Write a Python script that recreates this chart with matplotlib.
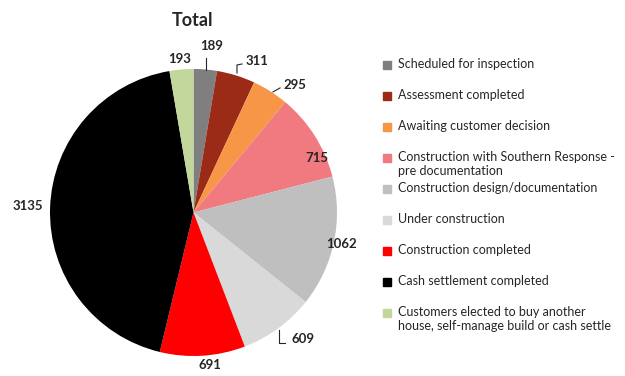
import numpy as np
import matplotlib.pyplot as plt
from matplotlib.patches import Rectangle

plt.rcParams['font.family'] = ['Lato', 'DejaVu Sans']

categories = ["Scheduled for inspection",
              "Assessment completed",
              "Awaiting customer decision",
              "Construction with Southern Response -\npre documentation",
              "Construction design/documentation",
              "Under construction",
              "Construction completed",
              "Cash settlement completed",
              "Customers elected to buy another\nhouse, self-manage build or cash settle"]
values = [189, 311, 295, 715, 1062, 609, 691, 3135, 193]
colors = ["#7f7f7f", "#9b2a17", "#f79646", "#f07a80", "#bfbfbf",
          "#d9d9d9", "#ff0000", "#000000", "#c3d69b"]

# label anchor (data coords) and optional leader lines
label_pos = [(0.129, 1.16), (0.44, 1.056), (0.71, 0.889), (0.861, 0.38),
             (1.03, -0.219), (0.765, -0.882), (0.115, -1.063),
             (-1.153, 0.045), (-0.094, 1.07)]
leaders = {0: [(0.085, 0.993), (0.085, 1.076)],
           1: [(0.303, 0.972), (0.303, 1.028), (0.338, 1.035)],
           2: [(0.554, 0.84), (0.603, 0.868)],
           5: [(0.596, -0.819), (0.596, -0.909), (0.638, -0.909)]}

W, H = 625, 376
fig = plt.figure(figsize=(W / 100, H / 100), dpi=100)
ax = fig.add_axes([50 / W, 20 / H, 287 / W, 287 / H])
wedges, _ = ax.pie(values, colors=colors, startangle=90, counterclock=False,
                   radius=1, wedgeprops=dict(linewidth=0))
ax.set_xlim(-1, 1)
ax.set_ylim(-1, 1)
ax.set_aspect('auto')

for i, v in enumerate(values):
    x, y = label_pos[i]
    ax.text(x, y, str(v), ha='center', va='center', fontsize=9.5,
            fontweight='bold', color='#262626', clip_on=False)
    if i in leaders:
        pts = np.array(leaders[i])
        ax.plot(pts[:, 0], pts[:, 1], color='#262626', lw=0.8, clip_on=False)

fig.text(193 / W, 1 - 20 / H, "Total", ha='center', va='center',
         fontsize=13, fontweight='bold', color='#262626')

# legend drawn by hand (fixed row spacing like the original)
for i, (lab, c) in enumerate(zip(categories, colors)):
    yp = 65 + 31 * i
    fig.patches.append(Rectangle((383 / W, 1 - (yp + 4) / H), 8 / W, 8 / H,
                                 transform=fig.transFigure, color=c))
    fig.text(398 / W, 1 - (yp - 7) / H, lab, ha='left', va='top',
             fontsize=9, color='#262626', linespacing=1.15)

fig.savefig("out.png", dpi=100)
